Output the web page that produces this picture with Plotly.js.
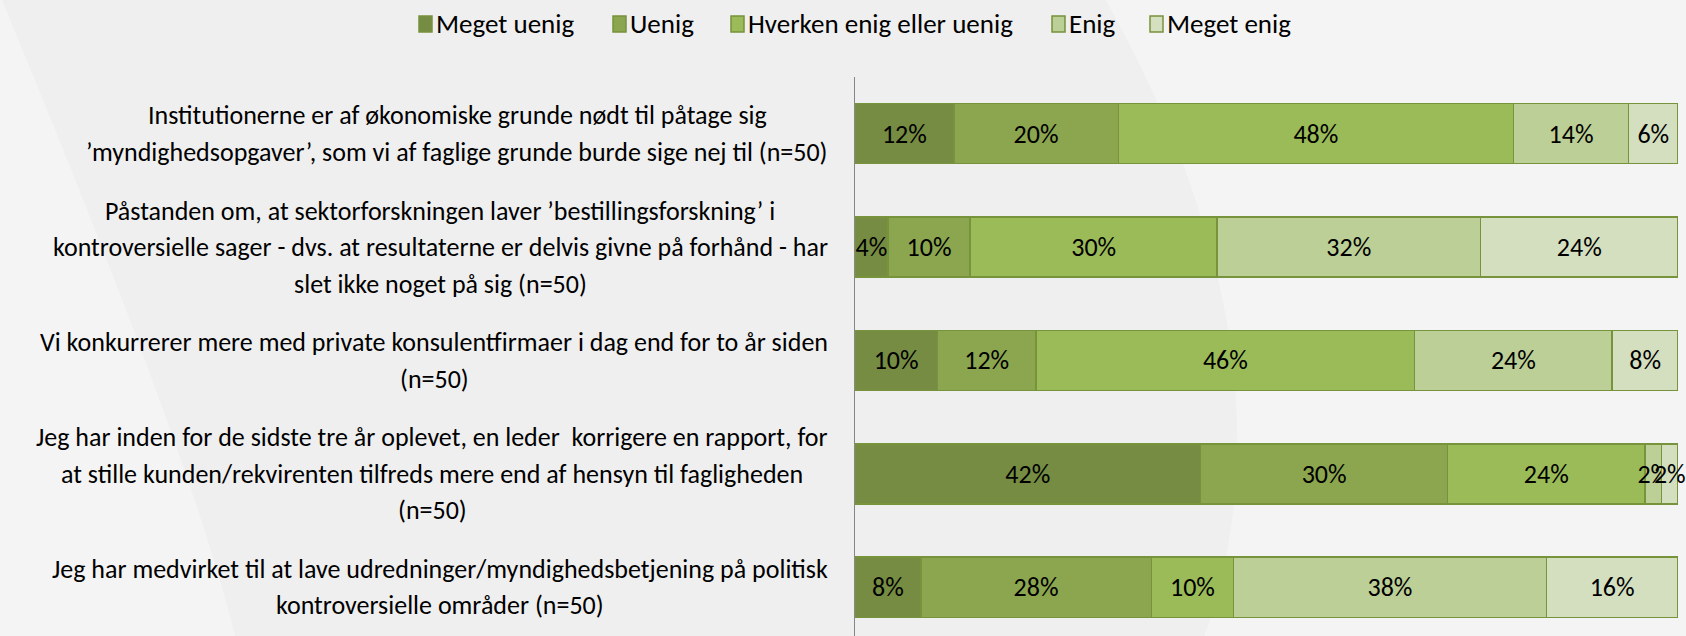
<!DOCTYPE html>
<html>
<head>
<meta charset="utf-8">
<script src="https://cdn.plot.ly/plotly-3.0.1.min.js"></script>
<style>
html,body{margin:0;padding:0;background:#efefef;}
#chart{width:1686px;height:636px;}
</style>
</head>
<body>
<div id="chart"></div>
<script>
const categories = [
  "Institutionerne er af økonomiske grunde nødt til påtage sig<br>’myndighedsopgaver’, som vi af faglige grunde burde sige nej til (n=50)",
  "Påstanden om, at sektorforskningen laver ’bestillingsforskning’ i<br>kontroversielle sager - dvs. at resultaterne er delvis givne på forhånd - har<br>slet ikke noget på sig (n=50)",
  "Vi konkurrerer mere med private konsulentfirmaer i dag end for to år siden<br>(n=50)",
  "Jeg har inden for de sidste tre år oplevet, en leder  korrigere en rapport, for<br>at stille kunden/rekvirenten tilfreds mere end af hensyn til fagligheden<br>(n=50)",
  "Jeg har medvirket til at lave udredninger/myndighedsbetjening på politisk<br>kontroversielle områder (n=50)"
];
const seriesNames = ["Meget uenig", "Uenig", "Hverken enig eller uenig", "Enig", "Meget enig"];
const megetUenig = [12, 4, 10, 42, 8];
const uenig      = [20, 10, 12, 30, 28];
const hverken    = [48, 30, 46, 24, 10];
const enig       = [14, 32, 24, 2, 38];
const megetEnig  = [6, 24, 8, 2, 16];
const seriesValues = [megetUenig, uenig, hverken, enig, megetEnig];
const colors = ["#758c42", "#8ba64e", "#9bbb59", "#bbcf96", "#d3dfbf"];

const FONT = "Carlito, 'Liberation Sans Narrow', 'Liberation Sans', sans-serif";
const LABEL_SIZE = 26;
const LINE_H = 36.5;
const yIdx = categories.map((c, i) => i);

// page geometry (pixels)
const W = 1686, H = 636;
const M = {l: 855, r: 8, t: 77, b: 0};
const PW = W - M.l - M.r, PH = H - M.t - M.b;
const px2x = p => (p - M.l) / PW;
const py2y = p => 1 - (p - M.t) / PH;
const LABEL_RIGHT = 828;
// legend entry start positions (pixels)
const legendX = [419, 613, 731, 1052, 1150];
const legendY = 24;

const ctx = document.createElement("canvas").getContext("2d");
ctx.font = LABEL_SIZE + "px " + FONT;

const traces = seriesNames.map((name, k) => ({
  type: "bar",
  orientation: "h",
  name: name,
  x: seriesValues[k],
  y: yIdx,
  text: seriesValues[k].map(v => v + "%"),
  textposition: "inside",
  insidetextanchor: "middle",
  textangle: 0,
  constraintext: "none",
  cliponaxis: false,
  textfont: {family: FONT, size: 26, color: "#000000"},
  marker: {color: colors[k], line: {color: "#77933c", width: 1.5}},
  hoverinfo: "none",
  showlegend: false
}));

const annotations = [];
categories.forEach((c, i) => {
  const lines = c.split("<br>");
  const maxW = Math.max(...lines.map(l => ctx.measureText(l).width));
  const cx = LABEL_RIGHT - maxW / 2;
  const n = lines.length;
  lines.forEach((line, j) => {
    annotations.push({
      xref: "paper", yref: "y",
      x: px2x(cx), y: i,
      xanchor: "center", yanchor: "middle",
      yshift: ((n - 1) / 2 - j) * LINE_H,
      text: line,
      showarrow: false,
      font: {family: FONT, size: LABEL_SIZE, color: "#000000"}
    });
  });
});

const shapes = [
  {type: "path", xref: "paper", yref: "paper", layer: "below",
   path: "M -1.04 1.15 Q -0.8 0.3 -0.75 -0.02 L -1.04 -0.02 Z",
   fillcolor: "rgba(255,255,255,0.35)", line: {width: 0}},
  {type: "path", xref: "paper", yref: "paper", layer: "below",
   path: "M 0.3 1.15 Q 0.55 0.5 0.42 -0.02 L 1.02 -0.02 L 1.02 1.15 Z",
   fillcolor: "rgba(255,255,255,0.35)", line: {width: 0}}
];

seriesNames.forEach((name, k) => {
  shapes.push({
    type: "rect", xref: "paper", yref: "paper", layer: "above",
    x0: px2x(legendX[k]), x1: px2x(legendX[k] + 13),
    y0: py2y(legendY + 8), y1: py2y(legendY - 8),
    fillcolor: colors[k], line: {color: "#77933c", width: 1.5}
  });
  annotations.push({
    xref: "paper", yref: "paper",
    x: px2x(legendX[k] + 15), y: py2y(legendY),
    xanchor: "left", yanchor: "middle",
    text: name, showarrow: false,
    font: {family: FONT, size: 27, color: "#000000"}
  });
});

const layout = {
  width: W, height: H,
  paper_bgcolor: "#efefef",
  plot_bgcolor: "rgba(0,0,0,0)",
  margin: {l: M.l, r: M.r, t: M.t, b: M.b, autoexpand: false},
  barmode: "stack",
  bargap: 0.47,
  showlegend: false,
  xaxis: {range: [0, 100], showgrid: false, zeroline: false, showticklabels: false, ticks: "", fixedrange: true},
  yaxis: {
    range: [4.43, -0.5],
    showticklabels: false, ticks: "", showgrid: false, zeroline: false,
    showline: true, linecolor: "#868686", linewidth: 1.5
  },
  annotations: annotations,
  shapes: shapes
};

Plotly.newPlot("chart", traces, layout, {displayModeBar: false, staticPlot: true});
</script>
</body>
</html>
